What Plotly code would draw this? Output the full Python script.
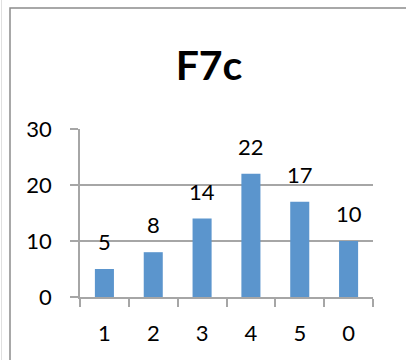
import plotly.graph_objects as go

categories = ["1", "2", "3", "4", "5", "0"]
values = [5, 8, 14, 22, 17, 10]
title_text = "F7c"
y_ticks = [0, 10, 20, 30]

W, H = 406, 360
ML, MR, MT, MB = 80, 33, 129, 63
PW, PH = W - ML - MR, H - MT - MB

def px_x(x):
    return (x - ML) / PW

def px_y(y):
    return (H - MB - y) / PH

FONT = "Lato"
GRID = "#A6A6A6"
BAR = "#5B95CD"

fig = go.Figure()
fig.add_trace(go.Bar(x=categories, y=values, marker=dict(color=BAR, line=dict(width=0)),
                     hoverinfo="skip"))

for i, v in enumerate(values):
    fig.add_annotation(x=i, y=v, text=str(v), showarrow=False, yanchor="bottom",
                       yshift=12, font=dict(family=FONT, size=22, color="#000000"))

fig.update_layout(
    width=W, height=H,
    margin=dict(l=ML, r=MR, t=MT, b=MB, pad=0),
    paper_bgcolor="white", plot_bgcolor="white",
    showlegend=False,
    bargap=0.61,
    title=dict(text="<b>" + title_text + "</b>", xref="container", yref="container",
               x=209 / W, y=1 - 66 / H, xanchor="center", yanchor="middle",
               font=dict(family=FONT, size=41, color="#000000")),
    xaxis=dict(type="category", showline=True, linecolor=GRID, linewidth=1.5,
               ticks="outside", tickson="boundaries", ticklen=8, tickcolor=GRID, tickwidth=1.5,
               showgrid=False, ticklabelstandoff=16,
               tickfont=dict(family=FONT, size=22, color="#000000")),
    yaxis=dict(range=[0, 30], tickvals=y_ticks, showline=True, linecolor=GRID, linewidth=1.5,
               ticks="outside", ticklen=8, tickcolor=GRID, tickwidth=1.5,
               showgrid=True, gridcolor=GRID, gridwidth=1.5, zeroline=False,
               ticklabelstandoff=14,
               tickfont=dict(family=FONT, size=22, color="#000000")),
    shapes=[
        dict(type="rect", xref="paper", yref="paper",
             x0=px_x(10), x1=px_x(410), y0=px_y(365), y1=px_y(8),
             line=dict(color="#8C8C8C", width=1.5), fillcolor="rgba(0,0,0,0)", layer="below"),
        dict(type="line", xref="paper", yref="paper",
             x0=px_x(1.5), x1=px_x(1.5), y0=px_y(365), y1=px_y(-5),
             line=dict(color="#E0E0E0", width=1)),
    ],
)

fig.write_html("out.html", config={"displayModeBar": False},
               post_script="document.body.style.margin='0';")
